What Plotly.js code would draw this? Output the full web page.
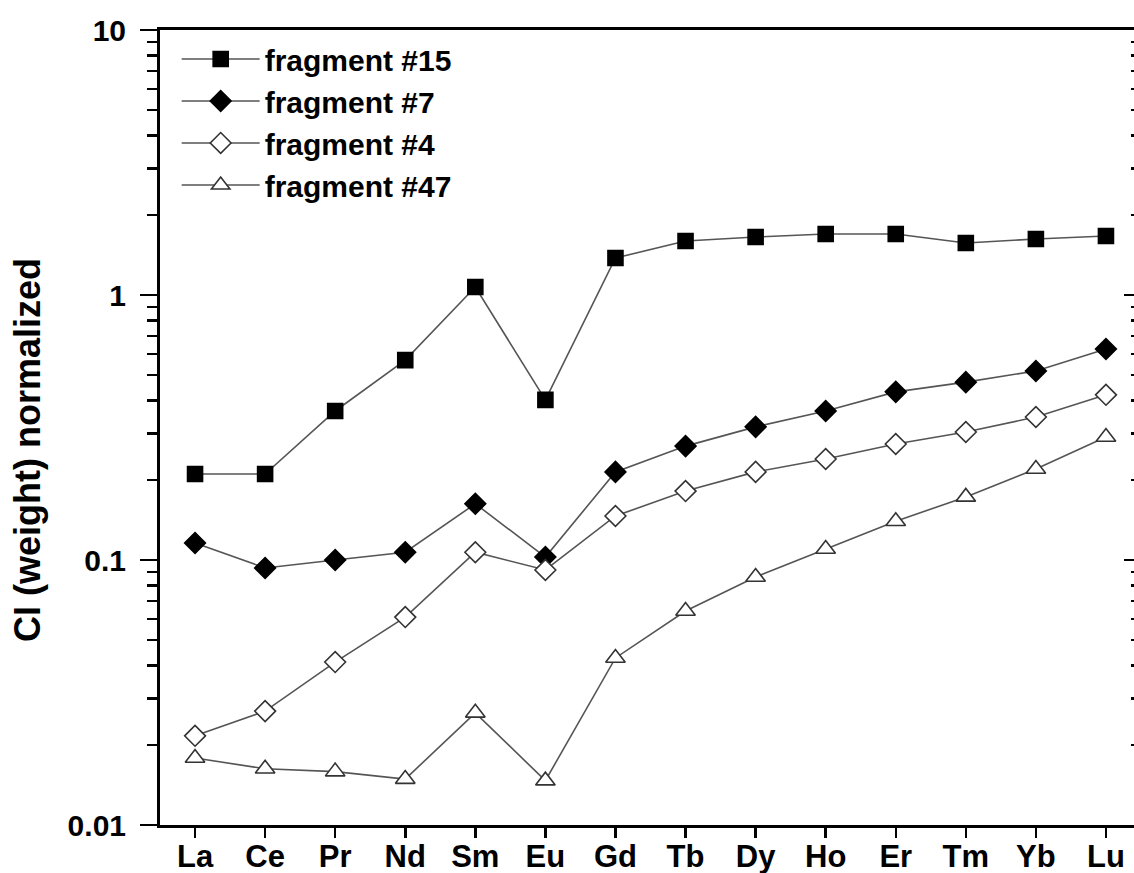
<!DOCTYPE html>
<html>
<head>
<meta charset="utf-8">
<script src="https://cdn.plot.ly/plotly-3.0.1.min.js"></script>
<style>
html,body{margin:0;padding:0;background:#fff;overflow:hidden;}
#chart{width:1150px;height:873px;}
</style>
</head>
<body>
<div id="chart"></div>
<script>
const elements = ["La","Ce","Pr","Nd","Sm","Eu","Gd","Tb","Dy","Ho","Er","Tm","Yb","Lu"];
const frag15 = [0.211,0.211,0.365,0.568,1.072,0.402,1.379,1.599,1.655,1.699,1.699,1.571,1.627,1.670];
const frag7  = [0.116,0.0933,0.100,0.107,0.163,0.1026,0.215,0.269,0.318,0.365,0.431,0.469,0.517,0.626];
const frag4  = [0.0217,0.0269,0.0412,0.0609,0.107,0.0917,0.1466,0.182,0.215,0.2405,0.274,0.304,0.3465,0.420];
const frag47 = [0.0179,0.0163,0.0159,0.0149,0.0265,0.0147,0.0427,0.0642,0.0863,0.110,0.140,0.173,0.2205,0.291];
const seriesNames = ["fragment #15","fragment #7","fragment #4","fragment #47"];
const yTickVals = [0.01,0.1,1,10];
const yTickText = ["0.01","0.1","1","10"];
const yTitle = "CI (weight) normalized";

const FONT = "'Liberation Sans', Arial, sans-serif";
const lineStyle = {color:'#555', width:1.6};

function mk(name, y, symbol, size, fill, lc){
  return {
    x: elements, y: y, name: name, type:'scatter', mode:'lines+markers',
    line: lineStyle,
    marker: {symbol: symbol, size: size, color: fill, line:{color: lc, width: 1.6}},
    cliponaxis: false
  };
}
const traces = [
  mk(seriesNames[0], frag15, 'square', 15, '#000', '#000'),
  mk(seriesNames[1], frag7, 'diamond', 16, '#000', '#000'),
  mk(seriesNames[2], frag4, 'diamond', 16, '#fff', '#333'),
  mk(seriesNames[3], frag47, 'triangle-up', 17, '#fff', '#333'),
  {x: elements, y: frag15, yaxis:'y2', type:'scatter', mode:'none', showlegend:false, hoverinfo:'skip'}
];

const yCommon = {
  type:'log', range:[-2,1], showgrid:false, zeroline:false,
  showline:true, linecolor:'#000', linewidth:3,
  tickmode:'array', tickvals:yTickVals, ticktext:yTickText,
  tickwidth:2.5, tickcolor:'#000',
  minor:{ticks:'', dtick:'D1', ticklen:10, tickwidth:2.5, tickcolor:'#000', showgrid:false}
};

const layout = {
  width:1150, height:873,
  margin:{l:160, r:9, t:30, b:48, pad:0},
  paper_bgcolor:'#fff', plot_bgcolor:'#fff',
  font:{family:FONT, size:30, color:'#000', weight:'bold'},
  showlegend:true,
  legend:{
    x:0.017, y:0.9963, xanchor:'left', yanchor:'top',
    bgcolor:'rgba(0,0,0,0)', borderwidth:0,
    font:{family:FONT, size:30, color:'#000', weight:'bold'},
    itemwidth:78, tracegroupgap:0
  },
  xaxis:{
    type:'category', range:[-0.5,13.5], showgrid:false, zeroline:false,
    showline:true, mirror:true, linecolor:'#000', linewidth:3,
    ticks:'outside', ticklen:10, tickwidth:2.5, tickcolor:'#000',
    tickfont:{family:FONT, size:31, weight:'bold'},
    ticklabelstandoff:-8
  },
  yaxis: Object.assign({}, yCommon, {
    side:'left', ticks:'outside', ticklen:17,
    minor:Object.assign({}, yCommon.minor, {ticks:'outside'}),
    tickfont:{family:FONT, size:30, weight:'bold'},
    ticklabelstandoff:8
  }),
  yaxis2: Object.assign({}, yCommon, {
    overlaying:'y', side:'right', ticks:'inside', ticklen:17, showticklabels:false,
    minor:Object.assign({}, yCommon.minor, {ticks:'inside'})
  }),
  annotations:[{
    text: yTitle, xref:'paper', yref:'paper',
    x:-0.1346, y:0.4717, xanchor:'center', yanchor:'middle',
    textangle:-90, showarrow:false,
    font:{family:FONT, size:36, color:'#000', weight:'bold'}
  }]
};

Plotly.newPlot('chart', traces, layout, {displayModeBar:false, staticPlot:true});
</script>
</body>
</html>
